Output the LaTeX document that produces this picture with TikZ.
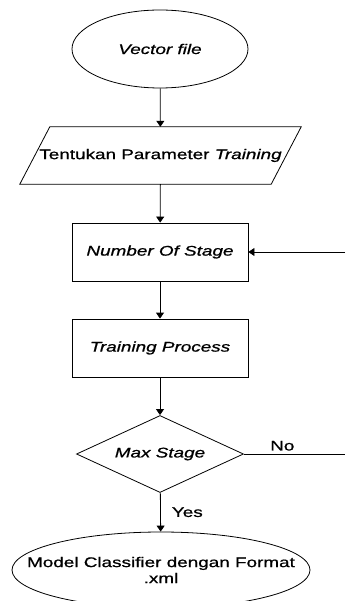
\documentclass[tikz,border=0pt]{standalone}
\usepackage{fontspec}
\setmainfont{Liberation Sans}[FakeStretch=1.35, FakeBold=0.8]
\usepackage{tikz}
\usetikzlibrary{arrows.meta, shapes.geometric}

\begin{document}
\begin{tikzpicture}[x=1pt, y=-1pt, font=\fontsize{14}{16}\selectfont,
  every node/.style={inner sep=2pt},
  box/.style={draw, line width=0.8pt, minimum width=176pt, minimum height=58pt},
  oval/.style={draw, ellipse, line width=0.8pt},
  flow/.style={line width=0.8pt, -{Triangle[length=6pt, width=8pt]}}]
  \useasboundingbox (0,0) rectangle (345,601);
  \clip (0,0) rectangle (345,601);

  % Nodes
  \node[oval, minimum width=176pt, minimum height=78pt] (vf) at (160,49) {\itshape Vector file};
  \node[minimum width=251pt, minimum height=57pt] (param) at (160.5,155.5)
        {Tentukan Parameter \itshape Training};
  \node[box] (nos) at (160,252) {\itshape Number Of Stage};
  \node[box] (tp) at (160,348) {\itshape Training Process};
  \node[draw, line width=0.8pt, diamond, aspect=2.17, minimum width=167pt, minimum height=77pt,
        inner sep=0pt] (ms) at (160,454) {\itshape Max Stage};
  \node[oval, inner xsep=-30pt, inner ysep=12pt, minimum width=298pt, minimum height=76pt,
        align=center] (mc) at (161,570) {Model Classifier dengan Format\\.xml};
  \coordinate (noend) at (345,454);
  \coordinate (loopin) at (345,252);

  % Parallelogram round the parameter node
  \draw[line width=0.8pt] ([xshift=15pt]param.north west) -- ([xshift=15pt]param.north east)
    -- ([xshift=-15pt]param.south east) -- ([xshift=-15pt]param.south west) -- cycle;

  % Main flow
  \draw[flow] (vf) -- (param);
  \draw[flow] (param) -- (nos);
  \draw[flow] (nos) -- (tp);
  \draw[flow] (tp) -- (ms);
  \draw[flow] (ms) -- node[right=9pt, pos=0.5] {Yes} (mc);

  % Loop back
  \draw[line width=0.8pt] (ms.east) -- node[above=1pt, pos=0.38] {No} (noend);
  \draw[flow] (loopin) -- (nos.east);
\end{tikzpicture}
\end{document}
